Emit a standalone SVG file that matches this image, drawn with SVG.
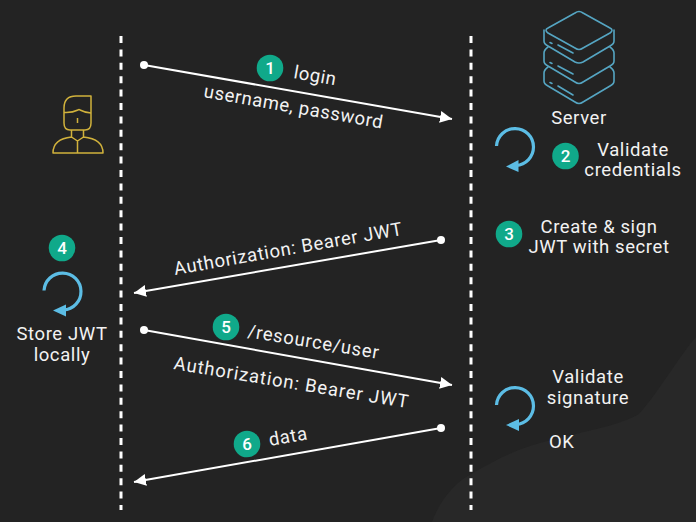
<svg xmlns="http://www.w3.org/2000/svg" width="696" height="522" viewBox="0 0 696 522">
<style>
text{font-family:"Roboto","Liberation Sans",sans-serif;fill:#f2f2f2;font-size:18.5px;letter-spacing:.6px}
.m{text-anchor:middle}
.life{stroke:#fff;stroke-width:3;stroke-dasharray:7 6.4;fill:none}
.msg{stroke:#fff;stroke-width:2;fill:none;marker-end:url(#ah)}
.dot{fill:#fff}
.badge{fill:#10a98a}
.num{text-anchor:middle;font-size:17px;font-weight:500;fill:#fff;letter-spacing:0}
.loop{fill:none;stroke:#5cbde5;stroke-width:3.2}
.head{fill:#5cbde5}
.srv{fill:none;stroke:#55a5c2;stroke-width:1.6;stroke-linejoin:round;stroke-linecap:round}
.usr{fill:none;stroke:#d1b23c;stroke-width:1.5;stroke-linejoin:round}
</style>
<defs>
<marker id="ah" markerUnits="userSpaceOnUse" markerWidth="14" markerHeight="14" refX="12" refY="6" orient="auto"><path d="M0 0L12 6L0 12Z" fill="#fff"/></marker>
<path id="lp" d="M-18.500 -1A18.500 18.500 0 1 1 1 18.500"/>
</defs>
<rect id="bg" width="696" height="522" fill="#232323"/>
<path d="M432 522C440 500 455 482 473 473C495 460 515 450 540 443C575 433 625 425 640 413C660 390 680 355 696 337V522Z" fill="#282828"/>
<g id="connectors">
<path class="life" d="M121 36V510"/>
<path class="life" d="M471 36V510"/>
<circle class="dot" cx="144" cy="65" r="4"/><path class="msg" d="M144 65L452 119"/>
<circle class="dot" cx="441" cy="240" r="4"/><path class="msg" d="M441 240L134 293"/>
<circle class="dot" cx="144" cy="330" r="4"/><path class="msg" d="M144 330L452 385"/>
<circle class="dot" cx="441" cy="428" r="4"/><path class="msg" d="M441 428L134 482"/>
</g>
<g id="client">
<path class="usr" d="M64 123V108Q64 96 76 96H91V123Q91 130 85 130H70Q64 130 64 123Z"/>
<path class="usr" d="M64 112.500Q72 113 78 110Q79 109 80 110Q86 113 91 113"/>
<path class="usr" d="M77.500 118V123"/>
<path class="usr" d="M71.500 130V137L77.500 141L83.500 137V130M71.500 137Q53 139 53 153H103Q103 139 83.500 137M77.500 141V153"/>
</g>
<g id="server">
<path class="srv" d="M575 13Q579 10 583 13L610 28Q614 30 610 33L583 48Q579 51 575 48L548 33Q544 30 548 28Z"/>
<path class="srv" d="M544 30V41Q544 44 548 46L575 62Q579 64 583 62L610 46Q614 44 614 41V30"/>
<path class="srv" d="M548 47Q544 50 544 53V61Q544 64 548 66L575 82Q579 85 583 82L610 66Q614 64 614 61V53Q614 50 610 47"/>
<path class="srv" d="M548 67Q544 70 544 73V81Q544 84 548 86L575 102Q579 105 583 102L610 86Q614 84 614 81V73Q614 70 610 67"/>
<path class="srv" d="M558 45L573 53M558 66L573 74M558 86L573 95M550 42.500L552 43.500M550 62.500L552 63.500M550 82.500L552 83.500"/>
<text class="m" x="579" y="124">Server</text>
</g>
<g id="edge-labels">
<text x="293" y="78" transform="rotate(10 293 78)">login</text>
<text x="203" y="97" transform="rotate(10 203 97)" textLength="182">username, password</text>
<text x="175" y="275" transform="rotate(-10 175 275)" textLength="232">Authorization: Bearer JWT</text>
<text x="247" y="337" transform="rotate(9.500 247 337)" textLength="133">/resource/user</text>
<text x="173" y="369" transform="rotate(9.500 173 369)" textLength="238">Authorization: Bearer JWT</text>
<text x="270" y="446" transform="rotate(-10 270 446)">data</text>
</g>
<g id="step1"><circle class="badge" cx="270" cy="68" r="13.300"/><text class="num" x="270" y="74">1</text></g>
<g id="step2"><circle class="badge" cx="565.500" cy="156" r="13.300"/><text class="num" x="565.500" y="162">2</text>
<use href="#lp" class="loop" x="515" y="147"/><path class="head" d="M506 166.500L518.500 160L518.500 172Z"/>
<text class="m" x="633" y="156">Validate</text><text class="m" x="633" y="176">credentials</text></g>
<g id="step3"><circle class="badge" cx="509" cy="234" r="13.300"/><text class="num" x="509" y="240">3</text>
<text class="m" x="599" y="233">Create &amp; sign</text><text class="m" x="599" y="253">JWT with secret</text></g>
<g id="step4"><circle class="badge" cx="62" cy="248" r="13.300"/><text class="num" x="62" y="254">4</text>
<use href="#lp" class="loop" x="62.500" y="291.500"/><path class="head" d="M53 310.500L66 304.500L66 316.500Z"/>
<text class="m" x="62" y="340">Store JWT</text><text class="m" x="62" y="361">locally</text></g>
<g id="step5"><circle class="badge" cx="226" cy="327" r="13.300"/><text class="num" x="226" y="333">5</text></g>
<g id="step6"><circle class="badge" cx="247" cy="444" r="13.300"/><text class="num" x="247" y="450">6</text></g>
<g id="validate"><use href="#lp" class="loop" x="515" y="406"/><path class="head" d="M506 425L519 419L519 431Z"/>
<text class="m" x="588" y="383">Validate</text><text class="m" x="588" y="404">signature</text><text x="549" y="448">OK</text></g>
</svg>
